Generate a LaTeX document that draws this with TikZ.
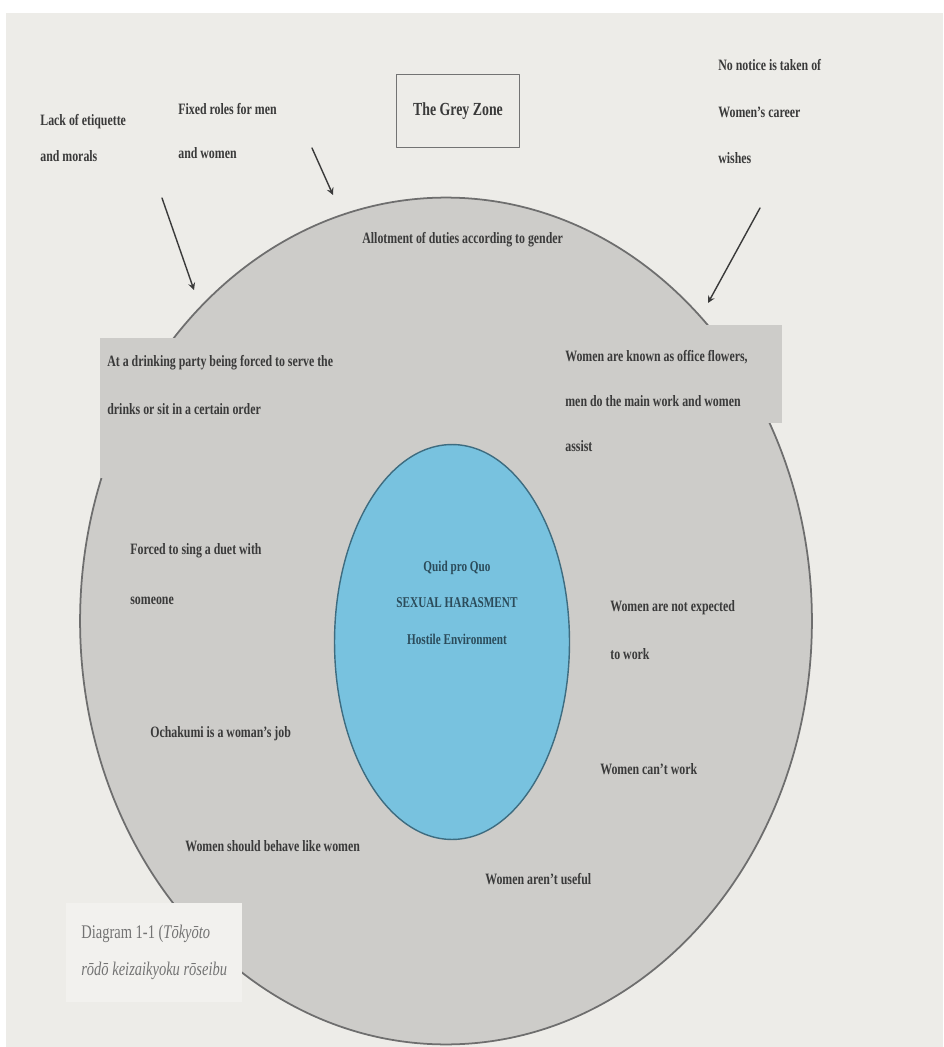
\documentclass[tikz,border=0pt]{standalone}
\usepackage{fontspec}
\setmainfont{Liberation Serif}[FakeStretch=0.75]
\usepackage{tikz}
\usetikzlibrary{positioning}
\usetikzlibrary{arrows}
\usetikzlibrary{shapes.geometric}

\definecolor{paper}{HTML}{EDECE8}
\definecolor{capbox}{HTML}{F2F1EE}
\definecolor{greyzone}{HTML}{CDCCC9}
\definecolor{rim}{HTML}{6E6E6E}
\definecolor{core}{HTML}{78C2DF}
\definecolor{corerim}{HTML}{3E6C80}
\definecolor{ink}{HTML}{3A3A3A}

\tikzset{
  zonetext/.style={font=\fontsize{9}{#1}\selectfont\bfseries, text=ink, align=left, anchor=base west, inner sep=0pt},
  zonetext/.default=26.7pt,
  coretext/.style={font=\fontsize{8.5}{20.5pt}\selectfont\bfseries, text=corerim!70!black, align=center, anchor=base, inner sep=0pt},
  captext/.style={font=\fontsize{11}{21pt}\selectfont, text=black!55, align=left, anchor=base west, inner sep=0pt},
  patch/.style={fill=greyzone, draw=none}
}

\begin{document}
\begin{tikzpicture}[line cap=round,line join=round,x=0.02cm,y=-0.02cm]
	\useasboundingbox (0,0) rectangle (943,1047);
	\fill[white] (0,0) rectangle (943,1047);
	\fill[paper] (6,13) rectangle (943,1047);
	
	% the two zones
	\node [ellipse, draw=rim, fill=greyzone, line width=1pt, inner sep=0pt, minimum width=14.64cm, minimum height=16.94cm] (zone) at (446,621) {};
	\fill [patch] (100,338) rectangle (330,478);
	\fill [patch] (600,325) rectangle (782,423);
	\fill [capbox] (66,903) rectangle (242,1002);
	\node [ellipse, draw=corerim, fill=core, line width=0.8pt, inner sep=0pt, minimum width=4.7cm, minimum height=7.9cm] (core) at (452,642) {};
	
	% title
	\node [draw=black!55, line width=1pt, minimum width=2.46cm, minimum height=1.46cm, font=\fontsize{10.5}{12}\selectfont\bfseries, text=ink] (title) at (458,111) {The Grey Zone};
	
	% outside the circle (multi-line texts sit on their last line)
	\node [zonetext=20.5pt] (lack) at (40,162) {Lack of etiquette\\and morals};
	\node [zonetext=25.6pt] (fixed) at (178,159) {Fixed roles for men\\and women};
	\node [zonetext] (notice) at (718,164) {No notice is taken of\\Women's career\\wishes};
	
	\coordinate (lackTail) at (162,198);
	\coordinate (lackHead) at (194,290);
	\coordinate (fixedTail) at (312,148);
	\coordinate (fixedHead) at (333,195);
	\coordinate (noticeTail) at (760,208);
	\coordinate (noticeHead) at (708,303);
	\draw [->, >=stealth, line width=0.8pt, ink] (lackTail) -- (lackHead);
	\draw [->, >=stealth, line width=0.8pt, ink] (fixedTail) -- (fixedHead);
	\draw [->, >=stealth, line width=0.8pt, ink] (noticeTail) -- (noticeHead);
	
	% the grey zone
	\node [zonetext] (allot) at (362,244) {Allotment of duties according to gender};
	\node [zonetext=27pt] (drinks) at (107,414) {At a drinking party being forced to serve the\\drinks or sit in a certain order};
	\node [zonetext=25.6pt] (flowers) at (565,451) {Women are known as office flowers,\\men do the main work and women\\assist};
	\node [zonetext=28.4pt] (duet) at (130,604) {Forced to sing a duet with\\someone};
	\node [zonetext=27pt] (notexp) at (610,659) {Women are not expected\\to work};
	\node [zonetext] (ochakumi) at (150,737) {Ochakumi is a woman's job};
	\node [zonetext] (cantwork) at (600,774) {Women can't work};
	\node [zonetext] (behave) at (185,851) {Women should behave like women};
	\node [zonetext] (useless) at (485,884) {Women aren't useful};
	
	% the core
	\node [coretext] (harass) at (457,644) {Quid pro Quo\\SEXUAL HARASMENT\\Hostile Environment};
	
	% caption
	\node [captext] (caption) at (81,975) {Diagram 1-1 (\textit{Tōkyōto}\\\textit{rōdō keizaikyoku rōseibu}};
\end{tikzpicture}
\end{document}
